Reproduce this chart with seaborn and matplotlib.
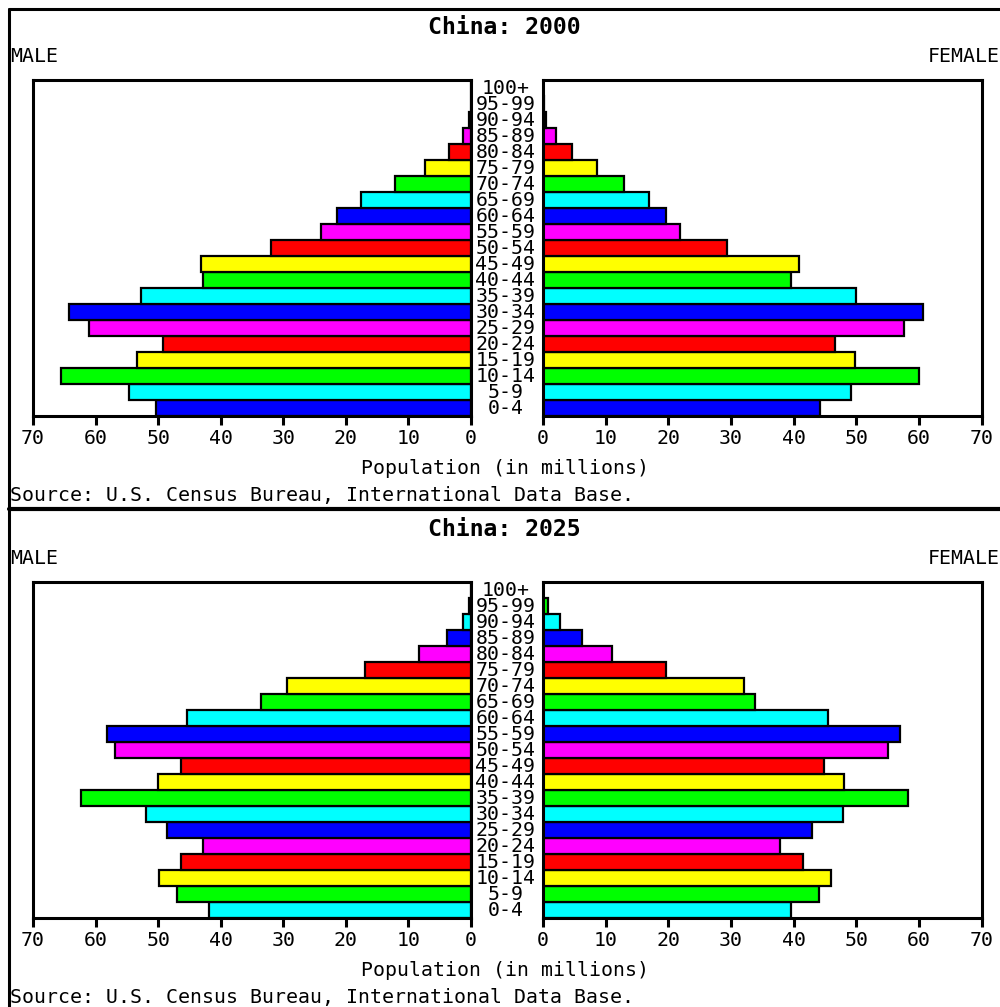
"""
Population pyramids for China, 2000 and 2025 (US Census Bureau IDB style).
"""

import matplotlib
matplotlib.use('Agg')
import matplotlib.pyplot as plt
import matplotlib.transforms as mtransforms
from matplotlib.lines import Line2D
import pandas as pd
import seaborn as sns

# age groups, bottom to top
ages = ['0-4', '5-9', '10-14', '15-19', '20-24', '25-29', '30-34', '35-39',
        '40-44', '45-49', '50-54', '55-59', '60-64', '65-69', '70-74',
        '75-79', '80-84', '85-89', '90-94', '95-99', '100+']

# population in millions
male_2000 = [50.4, 54.6, 65.5, 53.3, 49.2, 61.0, 64.2, 52.7, 42.8, 43.2, 31.9,
             24.0, 21.4, 17.6, 12.1, 7.35, 3.5, 1.3, 0.25, 0.05, 0.0]
female_2000 = [44.2, 49.2, 60.1, 49.8, 46.6, 57.6, 60.7, 50.0, 39.6, 40.9, 29.4,
               21.8, 19.6, 17.0, 12.9, 8.7, 4.6, 2.0, 0.4, 0.1, 0.0]
male_2025 = [41.8, 47.0, 49.9, 46.3, 42.8, 48.6, 52.0, 62.3, 50.1, 46.3, 56.9,
             58.2, 45.4, 33.6, 29.4, 16.9, 8.3, 3.8, 1.3, 0.3, 0.05]
female_2025 = [39.6, 44.1, 46.0, 41.5, 37.8, 42.9, 47.9, 58.3, 48.1, 44.9, 55.1,
               57.0, 45.5, 33.8, 32.1, 19.6, 11.0, 6.2, 2.7, 0.75, 0.05]

x_ticks = [0, 10, 20, 30, 40, 50, 60, 70]
years = ['2000', '2025']

# colours follow the birth cohort, so the cycle shifts by one for 2025
COLOR_CYCLE = ['#0000ff', '#00ffff', '#00ff00', '#ffff00', '#ff0000', '#ff00ff']
CYCLE_SHIFT = {'2000': 0, '2025': 1}

W, H = 1000, 1007
PANEL_OFFSET = 502
FONT = 14.3

sns.set_style('white')
plt.rcParams['font.family'] = ['DejaVu Sans Mono']
plt.rcParams['text.color'] = 'black'
plt.rcParams['xtick.color'] = 'black'
plt.rcParams['xtick.labelcolor'] = 'black'


def fx(px):
    return px / W


def fy(py):
    return 1 - py / H


def draw_side(ax, values, palette, left_side):
    df = pd.DataFrame({'age': ages, 'pop': values})
    sns.barplot(data=df, x='pop', y='age', hue='age', order=ages[::-1],
                hue_order=ages, palette=palette, legend=False, width=1.0,
                saturation=1, edgecolor='black', linewidth=1.6,
                errorbar=None, orient='h', ax=ax)
    ax.set_xlim((70, 0) if left_side else (0, 70))
    ax.set_xticks(x_ticks)
    ax.set_xticklabels([str(t) for t in x_ticks], fontsize=FONT)
    ax.set_yticks([])
    ax.set_xlabel('')
    ax.set_ylabel('')
    for spine in ax.spines.values():
        spine.set_visible(True)
        spine.set_linewidth(2.2)
        spine.set_color('black')
    ax.tick_params(axis='x', direction='out', length=6.5, width=2.2,
                   pad=2.5, colors='black', bottom=True)


def draw_panel(fig, year, male, female, off):
    shift = CYCLE_SHIFT[year]
    palette = {a: COLOR_CYCLE[(i + shift) % 6] for i, a in enumerate(ages)}

    ax_m = fig.add_axes([fx(33), fy(416 + off), fx(438), 336 / H])
    ax_f = fig.add_axes([fx(543), fy(416 + off), fx(438.5), 336 / H])
    draw_side(ax_m, male, palette, True)
    draw_side(ax_f, female, palette, False)

    # age group labels in the gap between the two halves
    trans = mtransforms.blended_transform_factory(fig.transFigure, ax_m.transData)
    for i, a in enumerate(ages[::-1]):
        ax_m.text(fx(505.5), i, a, transform=trans, ha='center', va='center',
                  fontsize=FONT, color='black', clip_on=False)

    fig.text(fx(504), fy(33.5 + off), f'China: {year}', ha='center',
             va='baseline', fontsize=16.7, weight='bold')
    fig.text(fx(10), fy(62 + off), 'MALE', ha='left', va='baseline', fontsize=FONT)
    fig.text(fx(1000), fy(62 + off), 'FEMALE', ha='right', va='baseline', fontsize=FONT)
    fig.text(fx(505), fy(473.5 + off), 'Population (in millions)', ha='center',
             va='baseline', fontsize=FONT)
    fig.text(fx(10), fy(501.5 + off), 'Source: U.S. Census Bureau, International Data Base.',
             ha='left', va='baseline', fontsize=FONT)


fig = plt.figure(figsize=(W / 100, H / 100), dpi=100)
fig.patch.set_facecolor('white')

draw_panel(fig, years[0], male_2000, female_2000, 0)
draw_panel(fig, years[1], male_2025, female_2025, PANEL_OFFSET)

# outer frame and separator
fig.add_artist(Line2D([fx(8.5), fx(1005)], [fy(8.5), fy(8.5)], color='black', lw=2.2))
fig.add_artist(Line2D([fx(8.5), fx(8.5)], [fy(8.5), fy(1010)], color='black', lw=2.2))
fig.add_artist(Line2D([fx(8.5), fx(1005)], [fy(509), fy(509)], color='black', lw=3.0))

fig.savefig('out.png', dpi=100, facecolor='white')
